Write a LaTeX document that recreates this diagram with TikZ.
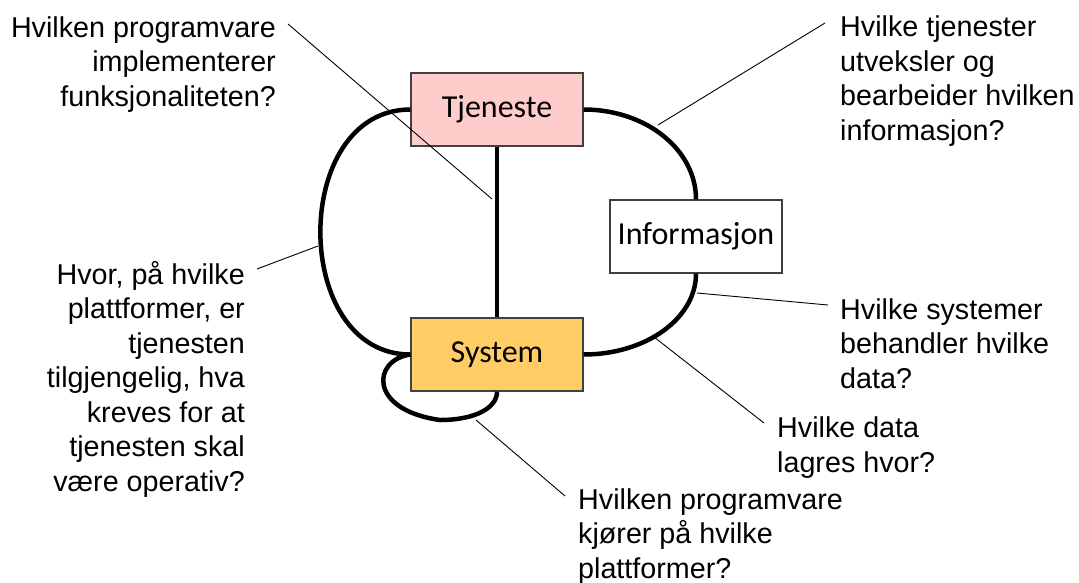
\documentclass[tikz,border=0pt]{standalone}
\usepackage{fontspec}
\setmainfont{Liberation Sans}
\newfontfamily\boxfont{Carlito}
\begin{document}
\begin{tikzpicture}[x=1pt,y=-1pt,
  box/.style={draw=black!75, line width=1.3pt, minimum width=172pt, minimum height=73pt,
    inner sep=0pt, font=\boxfont\fontsize{32}{38}\selectfont},
  link/.style={line width=4.5pt},
  callout/.style={line width=0.9pt},
  question/.style={inner sep=0pt, font=\fontsize{28.7}{34.5}\selectfont}]
\definecolor{servicepink}{HTML}{FFCCCC}
\definecolor{systemgold}{HTML}{FFCC66}
\useasboundingbox (0,0) rectangle (1079,582);

% the three domains
\node[box, fill=servicepink] (T) at (497,109.5) {Tjeneste};
\node[box, fill=white] (I) at (696,236.5) {Informasjon};
\node[box, fill=systemgold] (S) at (497,354.5) {System};

% relations between the domains
\coordinate (loopbottom) at (440,420);
\draw[link] (T.south) -- (S.north);
\draw[link] (T.west) .. controls +(-120,0) and +(-120,0) .. (S.west);
\draw[link] (T.east) .. controls +(62,0) and +(0,-50) .. (I.north);
\draw[link] (I.south) .. controls +(0,45) and +(62,0) .. (S.east);
\draw[link] (S.west) .. controls (372,360) and (368,410) .. (loopbottom)
            .. controls (475,420) and (497,408) .. (S.south);

% questions (each anchored at the baseline of its last line)
\node[question, anchor=base east, align=right] (q1) at (276,106)
  {Hvilken programvare\\implementerer\\funksjonaliteten?};
\node[question, anchor=base west, align=left] (q2) at (840,140)
  {Hvilke tjenester\\utveksler og\\bearbeider hvilken\\informasjon?};
\node[question, anchor=base east, align=right] (q3) at (245,491)
  {Hvor, på hvilke\\plattformer, er\\tjenesten\\tilgjengelig, hva\\kreves for at\\tjenesten skal\\være operativ?};
\node[question, anchor=base west, align=left] (q4) at (840,388)
  {Hvilke systemer\\behandler hvilke\\data?};
\node[question, anchor=base west, align=left] (q5) at (777,472)
  {Hvilke data\\lagres hvor?};
\node[question, anchor=base west, align=left] (q6) at (578,578)
  {Hvilken programvare\\kjører på hvilke\\plattformer?};

% callout lines
\coordinate (c1a) at (288,24);  \coordinate (c1b) at (492,199);
\coordinate (c2a) at (825,23);  \coordinate (c2b) at (658,125);
\coordinate (c3a) at (257,269); \coordinate (c3b) at (318,246);
\coordinate (c4a) at (828,305); \coordinate (c4b) at (697,293);
\coordinate (c5a) at (764,423); \coordinate (c5b) at (654,337);
\coordinate (c6a) at (565,496); \coordinate (c6b) at (476,420);
\draw[callout] (c1a) -- (c1b);
\draw[callout] (c2a) -- (c2b);
\draw[callout] (c3a) -- (c3b);
\draw[callout] (c4a) -- (c4b);
\draw[callout] (c5a) -- (c5b);
\draw[callout] (c6a) -- (c6b);
\end{tikzpicture}
\end{document}
